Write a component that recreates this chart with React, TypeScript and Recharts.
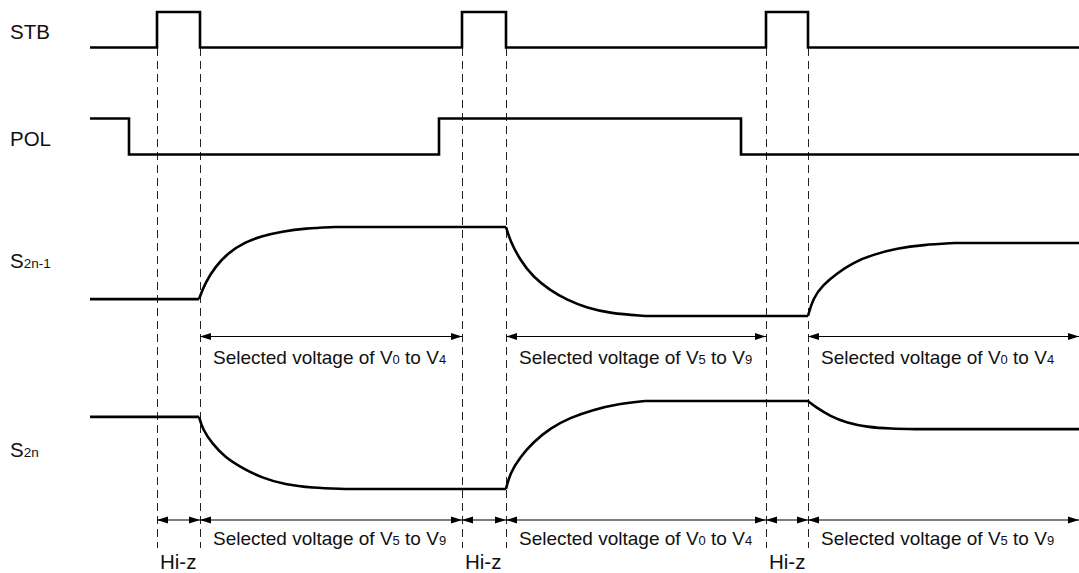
import { LineChart, Line, XAxis, YAxis, ReferenceLine } from "recharts";

const FONT = "'Liberation Sans', Arial, Helvetica, sans-serif";

// time axis uses the drawing's own units, waveforms start at t=90
const stbT = [90, 157, 157, 200, 200, 462, 462, 506, 506, 766, 766, 808, 808, 1079];
const stbV = [0, 0, 1, 1, 0, 0, 1, 1, 0, 0, 1, 1, 0, 0];

const polT = [90, 129, 129, 439, 439, 741, 741, 1079];
const polV = [1, 1, 0, 0, 1, 1, 0, 0];

// outputs: pieces of [t, level], level 0..1 within the lane
const s2n1Pieces = [
  [[90, 0.19], [199, 0.19]],
  [[199, 0.19], [205, 0.37], [215, 0.55], [228, 0.71], [245, 0.83], [262, 0.9], [282, 0.95], [305, 0.985], [335, 1]],
  [[335, 1], [506, 1]],
  [[506, 1], [510, 0.85], [520, 0.63], [533, 0.44], [550, 0.29], [567, 0.18], [587, 0.09], [610, 0.03], [645, 0]],
  [[645, 0], [808, 0]],
  [[808, 0], [813, 0.2], [823, 0.35], [837, 0.48], [853, 0.6], [873, 0.69], [897, 0.76], [923, 0.8], [955, 0.82]],
  [[955, 0.82], [1079, 0.82]],
];

const s2nPieces = [
  [[90, 0.82], [199, 0.82]],
  [[199, 0.82], [203, 0.67], [212, 0.52], [225, 0.36], [242, 0.24], [262, 0.125], [285, 0.05], [312, 0.012], [345, 0]],
  [[345, 0], [506, 0]],
  [[506, 0], [510, 0.18], [520, 0.36], [533, 0.53], [550, 0.69], [570, 0.81], [593, 0.9], [617, 0.965], [645, 1]],
  [[645, 1], [808, 1]],
  [[808, 1], [817, 0.92], [830, 0.83], [847, 0.75], [867, 0.705], [890, 0.685], [920, 0.68]],
  [[920, 0.68], [1079, 0.68]],
];

const strobeEdges = [157, 200, 462, 506, 766, 808];

const upperSpans = [
  { from: 200, to: 462, range: ["0", "4"] },
  { from: 506, to: 766, range: ["5", "9"] },
  { from: 808, to: 1079, range: ["0", "4"] },
];

const lowerSpans = [
  { from: 157, to: 200, range: null },
  { from: 200, to: 462, range: ["5", "9"] },
  { from: 462, to: 506, range: null },
  { from: 506, to: 766, range: ["0", "4"] },
  { from: 766, to: 808, range: null },
  { from: 808, to: 1079, range: ["5", "9"] },
];

const signalNames = [
  { name: "STB", sub: "" },
  { name: "POL", sub: "" },
  { name: "S", sub: "2n-1" },
  { name: "S", sub: "2n" },
];

// layout (drawing units, top = 0)
const lanes = [
  { base: 47.5, amp: 35.5, label: 39 },
  { base: 154.5, amp: 36, label: 146 },
  { base: 316, amp: 89, label: 268 },
  { base: 489, amp: 88, label: 457 },
];
const upperRowY = 336.5;
const lowerRowY = 520;
const dashBottom = 548;

const toY = (lane: number, v: number) => lanes[lane].base - v * lanes[lane].amp;
const stepData = (ts: number[], vs: number[], lane: number) =>
  ts.map((t, i) => ({ t, y: toY(lane, vs[i]) }));
const pieceData = (pts: number[][], lane: number) => pts.map(([t, v]) => ({ t, y: toY(lane, v) }));

const LINE = { stroke: "#000", strokeWidth: 2.6, dot: false, isAnimationActive: false, activeDot: false };

const NameTick = (props: any) => {
  const idx = lanes.findIndex((l) => l.label === props.payload.value);
  const s = signalNames[idx];
  if (!s) return null;
  return (
    <text x={10} y={props.y} fontFamily={FONT} fontSize={20.5} fill="#111">
      {s.name}
      {s.sub ? <tspan fontSize={13.5}>{s.sub}</tspan> : null}
    </text>
  );
};

const arrowShape = (range: string[] | null, textDy: number) => (p: any) => {
  const { x1, x2, y1 } = p;
  const h = 3.4;
  const L = 11;
  return (
    <g>
      <line x1={x1} y1={y1} x2={x2} y2={y1} stroke="#000" strokeWidth={1.1} />
      <path d={`M${x1},${y1}L${x1 + L},${y1 - h}L${x1 + L},${y1 + h}Z`} fill="#000" />
      <path d={`M${x2},${y1}L${x2 - L},${y1 - h}L${x2 - L},${y1 + h}Z`} fill="#000" />
      {range ? (
        <text x={x1 + 13} y={y1 + textDy} fontFamily={FONT} fontSize={19} fill="#111">
          {"Selected voltage of V"}
          <tspan fontSize={13}>{range[0]}</tspan>
          {" to V"}
          <tspan fontSize={13}>{range[1]}</tspan>
        </text>
      ) : (
        <text x={x1 + 3} y={y1 + 49} fontFamily={FONT} fontSize={20.5} fill="#111">
          Hi-z
        </text>
      )}
    </g>
  );
};

export default function App() {
  return (
    <div style={{ position: "absolute", left: 0, top: 0, background: "#fff" }}>
      <LineChart width={1079} height={573} margin={{ top: 0, right: 0, bottom: 0, left: 0 }}>
        <XAxis type="number" dataKey="t" domain={[90, 1079]} allowDataOverflow hide />
        <YAxis
          type="number"
          domain={[0, 573]}
          reversed
          allowDataOverflow
          width={90}
          axisLine={false}
          tickLine={false}
          ticks={lanes.map((l) => l.label)}
          interval={0}
          tick={<NameTick />}
        />
        {strobeEdges.map((t) => (
          <ReferenceLine
            key={`d${t}`}
            segment={[{ x: t, y: lanes[0].base }, { x: t, y: dashBottom }]}
            stroke="#222"
            strokeWidth={1}
            strokeDasharray="8 5"
            shapeRendering="crispEdges"
          />
        ))}
        {upperSpans.map((s, i) => (
          <ReferenceLine
            key={`u${i}`}
            segment={[{ x: s.from, y: upperRowY }, { x: s.to, y: upperRowY }]}
            shape={arrowShape(s.range, 27)}
          />
        ))}
        {lowerSpans.map((s, i) => (
          <ReferenceLine
            key={`l${i}`}
            segment={[{ x: s.from, y: lowerRowY }, { x: s.to, y: lowerRowY }]}
            shape={arrowShape(s.range, 25)}
          />
        ))}
        <Line data={stepData(stbT, stbV, 0)} dataKey="y" type="linear" {...LINE} />
        <Line data={stepData(polT, polV, 1)} dataKey="y" type="linear" {...LINE} />
        {s2n1Pieces.map((pts, i) => (
          <Line key={`a${i}`} data={pieceData(pts, 2)} dataKey="y" type="basis" {...LINE} />
        ))}
        {s2nPieces.map((pts, i) => (
          <Line key={`b${i}`} data={pieceData(pts, 3)} dataKey="y" type="basis" {...LINE} />
        ))}
      </LineChart>
    </div>
  );
}
